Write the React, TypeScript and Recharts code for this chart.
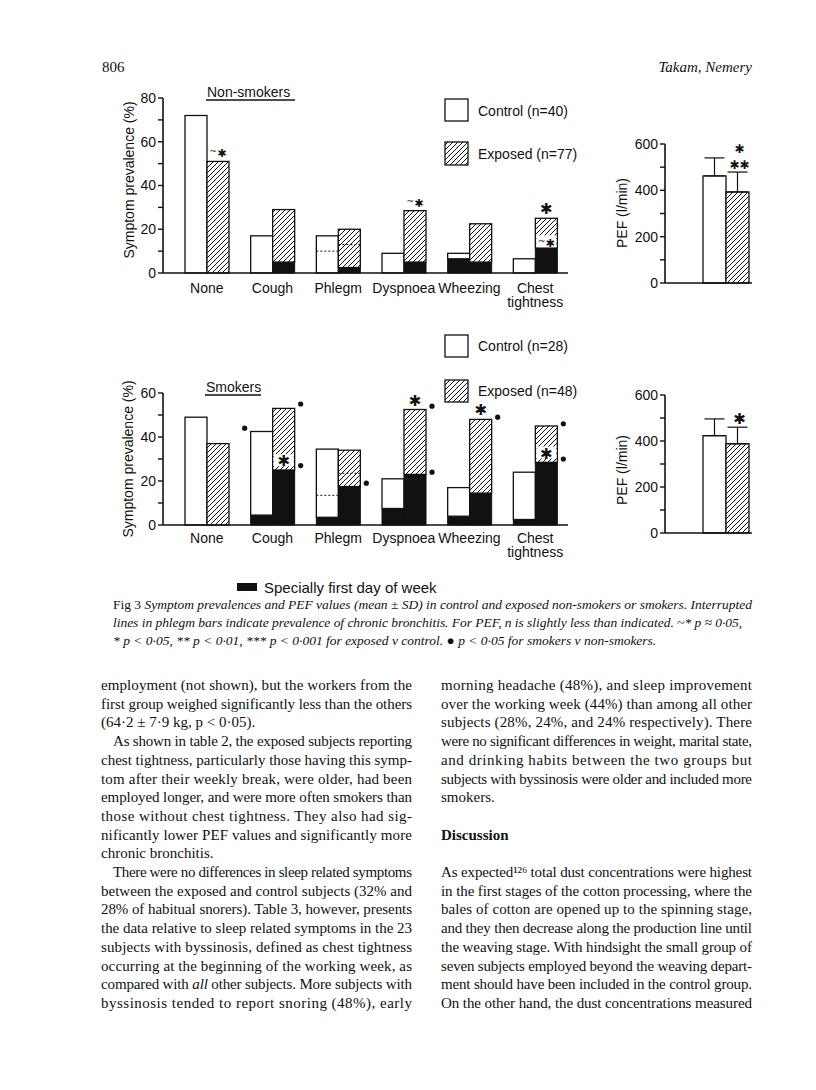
import { ComposedChart, Bar, XAxis, YAxis, ErrorBar } from 'recharts';

const categories = ['None', 'Cough', 'Phlegm', 'Dyspnoea', 'Wheezing', 'Chest tightness'];

// non-smokers, symptom prevalence %
const nsControl = [72, 17, 17, 9, 9, 6.5];
const nsControlFirstDay = [0, 0, 0, 0, 6.5, 0];
const nsExposed = [51, 29, 20, 28.5, 22.5, 25];
const nsExposedFirstDay = [0, 5, 2.5, 5, 5, 11.5];
const nsControlBronchitis = [null, null, 10, null, null, null];
const nsExposedBronchitis = [null, null, 13, null, null, null];
const nsExposedSig = ['~*', '', '', '~*', '', '*'];
const nsExposedInnerSig = ['', '', '', '', '', '~*'];
const nsExposedInnerAt = [null, null, null, null, null, 14];
const nsTicks = [0, 10, 20, 30, 40, 50, 60, 70, 80];

// smokers
const smControl = [49, 42.5, 34.5, 21, 17, 24];
const smControlFirstDay = [0, 4.5, 3.5, 7.5, 4, 2.5];
const smExposed = [37, 53, 34, 52.5, 48, 45];
const smExposedFirstDay = [0, 25, 17.5, 23, 14.5, 28.5];
const smControlBronchitis = [null, null, 13.5, null, null, null];
const smExposedBronchitis = [null, null, 23.5, null, null, null];
const smExposedSig = ['', '', '', '*', '*', ''];
const smExposedInnerSig = ['', '*', '', '', '', '*'];
const smExposedInnerAt = [null, 29, null, null, null, 32.5];
const smControlDots = [null, 44, null, null, null, null];
const smExposedDotsHigh = [null, 55, null, 54, 49, 46];
const smExposedDotsLow = [null, 27, 19, 24, null, 30];
const smTicks = [0, 10, 20, 30, 40, 50, 60];

// PEF (l/min), control / exposed
const nsPefMean = [462, 393];
const nsPefSD = [78, 86];
const nsPefSig = ['', '***'];
const smPefMean = [423, 388];
const smPefSD = [73, 72];
const smPefSig = ['', '*'];
const pefTicks = [0, 100, 200, 300, 400, 500, 600];

const INK = '#111';
const SANS = '"Liberation Sans", Arial, sans-serif';
const SERIF = '"Liberation Serif", "Times New Roman", serif';

const leftColumn = [
  { t: 'employment (not shown), but the workers from the' },
  { t: 'first group weighed significantly less than the others' },
  { t: '(64·2 ± 7·9 kg, p < 0·05).', last: true },
  { t: 'As shown in table 2, the exposed subjects reporting', indent: true },
  { t: 'chest tightness, particularly those having this symp-' },
  { t: 'tom after their weekly break, were older, had been' },
  { t: 'employed longer, and were more often smokers than' },
  { t: 'those without chest tightness. They also had sig-' },
  { t: 'nificantly lower PEF values and significantly more' },
  { t: 'chronic bronchitis.', last: true },
  { t: 'There were no differences in sleep related symptoms', indent: true },
  { t: 'between the exposed and control subjects (32% and' },
  { t: '28% of habitual snorers). Table 3, however, presents' },
  { t: 'the data relative to sleep related symptoms in the 23' },
  { t: 'subjects with byssinosis, defined as chest tightness' },
  { t: 'occurring at the beginning of the working week, as' },
  { t: 'compared with |all| other subjects. More subjects with' },
  { t: 'byssinosis tended to report snoring (48%), early' },
];

const rightColumn = [
  { t: 'morning headache (48%), and sleep improvement' },
  { t: 'over the working week (44%) than among all other' },
  { t: 'subjects (28%, 24%, and 24% respectively). There' },
  { t: 'were no significant differences in weight, marital state,' },
  { t: 'and drinking habits between the two groups but' },
  { t: 'subjects with byssinosis were older and included more' },
  { t: 'smokers.', last: true },
  { t: '', last: true },
  { t: 'Discussion', last: true, bold: true },
  { t: '', last: true },
  { t: 'As expected¹²⁶ total dust concentrations were highest' },
  { t: 'in the first stages of the cotton processing, where the' },
  { t: 'bales of cotton are opened up to the spinning stage,' },
  { t: 'and they then decrease along the production line until' },
  { t: 'the weaving stage. With hindsight the small group of' },
  { t: 'seven subjects employed beyond the weaving depart-' },
  { t: 'ment should have been included in the control group.' },
  { t: 'On the other hand, the dust concentrations measured' },
];

function buildRows(g: any) {
  return categories.map((name, i) => ({
    name,
    cTotal: g.control[i],
    cFirst: g.controlFirst[i],
    cRest: g.control[i] - g.controlFirst[i],
    eTotal: g.exposed[i],
    eFirst: g.exposedFirst[i],
    eRest: g.exposed[i] - g.exposedFirst[i],
    cBron: g.controlBron[i],
    eBron: g.exposedBron[i],
    eSig: g.exposedSig[i],
    eInnerSig: g.exposedInnerSig[i],
    eInnerAt: g.exposedInnerAt[i],
    cDots: [g.controlDots ? g.controlDots[i] : null].filter((v) => v != null),
    eDots: [g.exposedDotsHigh ? g.exposedDotsHigh[i] : null, g.exposedDotsLow ? g.exposedDotsLow[i] : null].filter(
      (v) => v != null
    ),
  }));
}

const nsRows = buildRows({
  control: nsControl,
  controlFirst: nsControlFirstDay,
  exposed: nsExposed,
  exposedFirst: nsExposedFirstDay,
  controlBron: nsControlBronchitis,
  exposedBron: nsExposedBronchitis,
  exposedSig: nsExposedSig,
  exposedInnerSig: nsExposedInnerSig,
  exposedInnerAt: nsExposedInnerAt,
});

const smRows = buildRows({
  control: smControl,
  controlFirst: smControlFirstDay,
  exposed: smExposed,
  exposedFirst: smExposedFirstDay,
  controlBron: smControlBronchitis,
  exposedBron: smExposedBronchitis,
  exposedSig: smExposedSig,
  exposedInnerSig: smExposedInnerSig,
  exposedInnerAt: smExposedInnerAt,
  controlDots: smControlDots,
  exposedDotsHigh: smExposedDotsHigh,
  exposedDotsLow: smExposedDotsLow,
});

function pefRows(mean: number[], sd: number[], sig: string[]) {
  return [
    {
      name: 'PEF',
      control: mean[0],
      controlErr: [0, sd[0]],
      exposed: mean[1],
      exposedErr: [0, sd[1]],
      exposedSD: sd[1],
      exposedSig: sig[1],
    },
  ];
}

function SigMark({ x, y, text }: { x: number; y: number; text: string }) {
  if (!text) return null;
  const st = { fontFamily: '"DejaVu Sans", sans-serif', fill: INK } as any;
  if (text === '***') {
    // one star over two, as in the print
    return (
      <g>
        <text x={x} y={y - 16} textAnchor="middle" fontSize={12} {...st}>✱</text>
        <text x={x} y={y} textAnchor="middle" fontSize={12} {...st}>✱✱</text>
      </g>
    );
  }
  if (text.startsWith('~')) {
    return (
      <text x={x} y={y} textAnchor="middle" fontSize={11} {...st}>
        <tspan fontSize={9} dy={-3}>~</tspan>
        <tspan dy={3}>✱</tspan>
      </text>
    );
  }
  return (
    <text x={x} y={y} textAnchor="middle" fontSize={15} {...st}>
      ✱
    </text>
  );
}

function makeRestShape(side: 'c' | 'e', fill: string) {
  return function RestShape(props: any) {
    const { x, y, width, height, payload } = props;
    const total = payload[side + 'Total'];
    const first = payload[side + 'First'];
    const rest = total - first;
    const unit = rest > 0 ? height / rest : 0;
    const y0 = y + height + first * unit;
    const yOf = (v: number) => y0 - v * unit;
    const bron = payload[side + 'Bron'];
    const sig = payload[side + 'Sig'];
    const innerSig = payload[side + 'InnerSig'];
    const innerAt = payload[side + 'InnerAt'];
    const dots: number[] = payload[side + 'Dots'] || [];
    const dotX = side === 'c' ? x - 6 : x + width + 6;
    return (
      <g>
        <rect x={x} y={y} width={width} height={height} fill={fill} stroke={INK} strokeWidth={1.3} />
        {bron != null && (
          <line x1={x} x2={x + width} y1={yOf(bron)} y2={yOf(bron)} stroke={INK} strokeWidth={1} strokeDasharray="2 2" />
        )}
        {innerSig && innerAt != null && (
          <g>
            <rect x={x + 1} y={yOf(innerAt) - 7} width={width - 2} height={12} fill="#fff" />
            <SigMark x={x + width / 2} y={yOf(innerAt) + 5} text={innerSig} />
          </g>
        )}
        {sig && <SigMark x={x + width / 2} y={yOf(total) - 4} text={sig} />}
        {dots.map((v, k) => (
          <circle key={k} cx={dotX} cy={yOf(v)} r={2.6} fill={INK} />
        ))}
      </g>
    );
  };
}

function PefExposedShape(props: any) {
  const { x, y, width, height, payload } = props;
  const unit = payload.exposed > 0 ? height / payload.exposed : 0;
  const errTop = y - payload.exposedSD * unit;
  return (
    <g>
      <rect x={x} y={y} width={width} height={height} fill="url(#hatch)" stroke={INK} strokeWidth={1.3} />
      <SigMark x={x + width / 2 + 2} y={errTop - 3} text={payload.exposedSig} />
    </g>
  );
}

function CategoryTick(props: any) {
  const { x, y, payload, first } = props;
  const words = String(payload.value).split(' ');
  return (
    <text x={x} y={y} textAnchor="middle" fontFamily={SANS} fontSize={14} fill={INK}>
      {words.map((w, i) => (
        <tspan key={i} x={x} dy={i === 0 ? first : 14}>
          {w}
        </tspan>
      ))}
    </text>
  );
}

const axisLine = { stroke: INK, strokeWidth: 1.6 };

function SymptomChart({ rows, ticks, max, height, margin, labelDy }: any) {
  return (
    <ComposedChart width={620} height={height} data={rows} margin={margin} barGap={0}>
      <XAxis
        dataKey="name"
        axisLine={axisLine}
        tickLine={false}
        tickSize={0}
        tickMargin={0}
        interval={0}
        height={40}
        padding={{ left: 11, right: 0 }}
        tick={<CategoryTick first={labelDy} />}
      />
      <YAxis
        domain={[0, max]}
        ticks={ticks}
        interval={0}
        width={40}
        axisLine={axisLine}
        tickLine={{ stroke: INK, strokeWidth: 1.4 }}
        tickSize={5}
        tickMargin={2}
        tick={{ fill: INK, fontFamily: SANS, fontSize: 14 }}
        tickFormatter={(v: number) => (v % 20 === 0 ? String(v) : '')}
      />
      <Bar dataKey="cFirst" stackId="c" barSize={22} fill={INK} stroke={INK} isAnimationActive={false} />
      <Bar dataKey="cRest" stackId="c" barSize={22} shape={makeRestShape('c', '#fff')} isAnimationActive={false} />
      <Bar dataKey="eFirst" stackId="e" barSize={22} fill={INK} stroke={INK} isAnimationActive={false} />
      <Bar dataKey="eRest" stackId="e" barSize={22} shape={makeRestShape('e', 'url(#hatch)')} isAnimationActive={false} />
    </ComposedChart>
  );
}

function PefChart({ rows, margin }: any) {
  return (
    <ComposedChart width={200} height={180} data={rows} margin={margin} barGap={0}>
      <XAxis dataKey="name" tick={false} tickLine={false} axisLine={axisLine} height={1} padding={{ left: 35, right: 0 }} />
      <YAxis
        domain={[0, 600]}
        ticks={pefTicks}
        interval={0}
        width={45}
        axisLine={axisLine}
        tickLine={{ stroke: INK, strokeWidth: 1.4 }}
        tickSize={5}
        tickMargin={2}
        tick={{ fill: INK, fontFamily: SANS, fontSize: 14 }}
        tickFormatter={(v: number) => (v % 200 === 0 ? String(v) : '')}
      />
      <Bar dataKey="control" barSize={23} fill="#fff" stroke={INK} strokeWidth={1.3} isAnimationActive={false}>
        <ErrorBar dataKey="controlErr" width={10} stroke={INK} strokeWidth={1.2} direction="y" />
      </Bar>
      <Bar dataKey="exposed" barSize={23} shape={PefExposedShape} isAnimationActive={false}>
        <ErrorBar dataKey="exposedErr" width={10} stroke={INK} strokeWidth={1.2} direction="y" />
      </Bar>
    </ComposedChart>
  );
}

function Column({ lines, x, width }: { lines: any[]; x: number; width: number }) {
  return (
    <g>
      {lines.map((ln, i) => {
        if (!ln.t) return null;
        const lx = ln.indent ? x + 12 : x;
        const w = ln.indent ? width - 12 : width;
        const parts = ln.t.split('|');
        const justify = !ln.last ? { textLength: w, lengthAdjust: 'spacing' } : {};
        return (
          <text
            key={i}
            x={lx}
            y={690 + i * 18.7}
            fontFamily={SERIF}
            fontSize={15}
            fontWeight={ln.bold ? 'bold' : 'normal'}
            fill={INK}
            {...(justify as any)}
          >
            {parts.map((p: string, k: number) => (
              <tspan key={k} fontStyle={k % 2 === 1 ? 'italic' : 'normal'}>
                {p}
              </tspan>
            ))}
          </text>
        );
      })}
    </g>
  );
}

function Page() {
  return (
    <svg width={816} height={1090} style={{ position: 'absolute', left: 0, top: 0 }}>
      <defs>
        <pattern id="hatch" patternUnits="userSpaceOnUse" width={5} height={5}>
          <rect width={5} height={5} fill="#fff" />
          <path d="M-1,1 l2,-2 M0,5 l5,-5 M4,6 l2,-2" stroke={INK} strokeWidth={1} />
        </pattern>
      </defs>
      <rect width={816} height={1090} fill="#fff" />
      <text x={102} y={72} fontFamily={SERIF} fontSize={15} fill={INK}>806</text>
      <text x={752} y={72} textAnchor="end" fontFamily={SERIF} fontSize={15} fontStyle="italic" fill={INK}>
        Takam, Nemery
      </text>

      {/* upper panel */}
      <text x={207} y={97} fontFamily={SANS} fontSize={14} fill={INK}>Non-smokers</text>
      <line x1={206} x2={295} y1={100} y2={100} stroke={INK} strokeWidth={1.5} />
      <text transform="translate(129,180) rotate(-90)" textAnchor="middle" dominantBaseline="central" fontFamily={SANS} fontSize={14} fill={INK}>
        Symptom prevalence (%)
      </text>
      <rect x={445} y={99} width={23} height={22} fill="#fff" stroke={INK} strokeWidth={1.3} />
      <text x={478} y={116} fontFamily={SANS} fontSize={14} fill={INK}>Control (n=40)</text>
      <rect x={445} y={142} width={23} height={23} fill="url(#hatch)" stroke={INK} strokeWidth={1.3} />
      <text x={478} y={159} fontFamily={SANS} fontSize={14} fill={INK}>Exposed (n=77)</text>
      <text transform="translate(622,213) rotate(-90)" textAnchor="middle" dominantBaseline="central" fontFamily={SANS} fontSize={14} fill={INK}>
        PEF (l/min)
      </text>

      {/* lower panel */}
      <rect x={445} y={335} width={23} height={22} fill="#fff" stroke={INK} strokeWidth={1.3} />
      <text x={478} y={351} fontFamily={SANS} fontSize={14} fill={INK}>Control (n=28)</text>
      <rect x={445} y={380} width={23} height={22} fill="url(#hatch)" stroke={INK} strokeWidth={1.3} />
      <text x={478} y={396} fontFamily={SANS} fontSize={14} fill={INK}>Exposed (n=48)</text>
      <text x={206} y={392} fontFamily={SANS} fontSize={14} fill={INK}>Smokers</text>
      <line x1={205} x2={261} y1={395} y2={395} stroke={INK} strokeWidth={1.5} />
      <text transform="translate(128,459) rotate(-90)" textAnchor="middle" dominantBaseline="central" fontFamily={SANS} fontSize={14} fill={INK}>
        Symptom prevalence (%)
      </text>
      <text transform="translate(622,470) rotate(-90)" textAnchor="middle" dominantBaseline="central" fontFamily={SANS} fontSize={14} fill={INK}>
        PEF (l/min)
      </text>

      <rect x={237} y={583} width={20} height={8} fill={INK} />
      <text x={264} y={593} fontFamily={SANS} fontSize={15} fill={INK}>Specially first day of week</text>

      {/* caption */}
      <text x={113} y={609} fontFamily={SERIF} fontSize={13.5} fill={INK} textLength={639} lengthAdjust="spacing">
        <tspan>Fig 3   </tspan>
        <tspan fontStyle="italic">
          Symptom prevalences and PEF values (mean ± SD) in control and exposed non-smokers or smokers. Interrupted
        </tspan>
      </text>
      <text x={113} y={627} fontFamily={SERIF} fontSize={13.5} fontStyle="italic" fill={INK} textLength={629} lengthAdjust="spacing">
        lines in phlegm bars indicate prevalence of chronic bronchitis. For PEF, n is slightly less than indicated. ~* p ≈ 0·05,
      </text>
      <text x={113} y={645} fontFamily={SERIF} fontSize={13.5} fontStyle="italic" fill={INK}>
        * p {'<'} 0·05, ** p {'<'} 0·01, *** p {'<'} 0·001 for exposed v control. ● p {'<'} 0·05 for smokers v non-smokers.
      </text>

      <Column lines={leftColumn} x={101} width={311} />
      <Column lines={rightColumn} x={441} width={311} />
    </svg>
  );
}

export default function App() {
  return (
    <div style={{ position: 'absolute', left: 0, top: 0, width: 816, height: 1090, background: '#fff', overflow: 'hidden' }}>
      <Page />
      <div style={{ position: 'absolute', left: 0, top: 80 }}>
        <SymptomChart rows={nsRows} ticks={nsTicks} max={80} height={250} margin={{ top: 18, right: 52, left: 123, bottom: 17 }} labelDy={20} />
      </div>
      <div style={{ position: 'absolute', left: 0, top: 370 }}>
        <SymptomChart rows={smRows} ticks={smTicks} max={60} height={210} margin={{ top: 23, right: 52, left: 123, bottom: 15 }} labelDy={18} />
      </div>
      <div style={{ position: 'absolute', left: 560, top: 120 }}>
        <PefChart rows={pefRows(nsPefMean, nsPefSD, nsPefSig)} margin={{ top: 24, right: 8, left: 60, bottom: 16 }} />
      </div>
      <div style={{ position: 'absolute', left: 560, top: 370 }}>
        <PefChart rows={pefRows(smPefMean, smPefSD, smPefSig)} margin={{ top: 25, right: 8, left: 60, bottom: 16 }} />
      </div>
    </div>
  );
}
